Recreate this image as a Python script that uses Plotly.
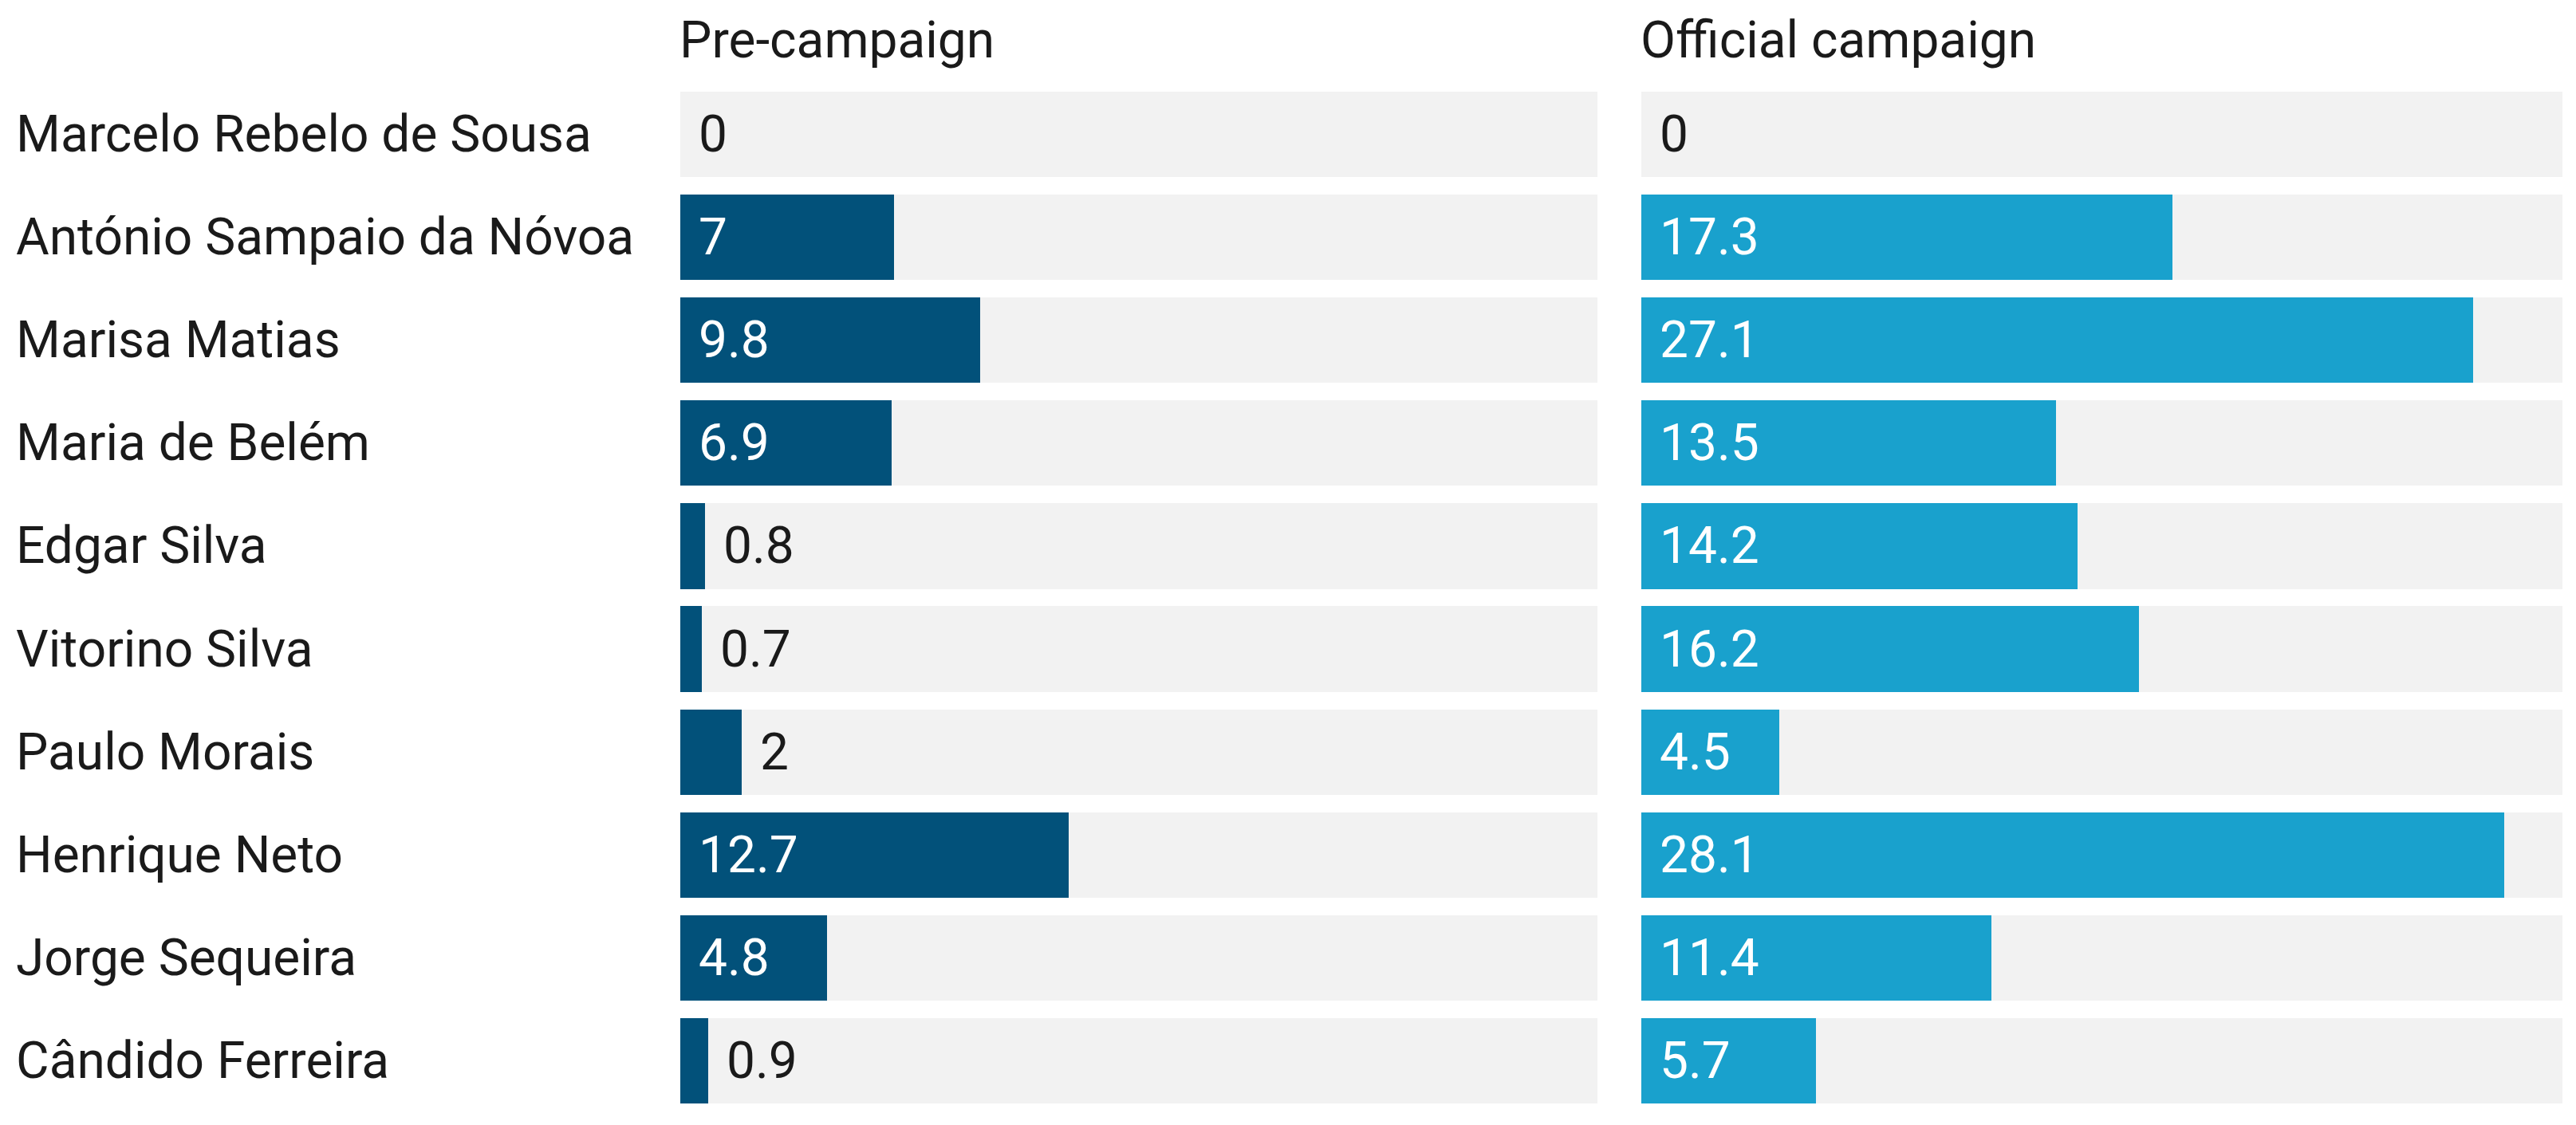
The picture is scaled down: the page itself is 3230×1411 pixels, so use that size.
import plotly.graph_objects as go

candidates = [
    "Marcelo Rebelo de Sousa",
    "António Sampaio da Nóvoa",
    "Marisa Matias",
    "Maria de Belém",
    "Edgar Silva",
    "Vitorino Silva",
    "Paulo Morais",
    "Henrique Neto",
    "Jorge Sequeira",
    "Cândido Ferreira",
]
pre_campaign = [0, 7, 9.8, 6.9, 0.8, 0.7, 2, 12.7, 4.8, 0.9]
official_campaign = [0, 17.3, 27.1, 13.5, 14.2, 16.2, 4.5, 28.1, 11.4, 5.7]
panel_titles = ["Pre-campaign", "Official campaign"]

AXIS_MAX = 30
INSIDE_MIN = 3
W, H = 3230, 1411
OFF = 8  # default page body margin
FONT = "Roboto, 'Noto Sans', Arial, sans-serif"
TRACK = "#f2f2f2"
COLORS = ["#02517a", "#19a1cd"]
TEXT = "#1a1a1a"

# pixel geometry (converted to paper fractions)
x_doms = [[(853 - OFF) / W, (2003 - OFF) / W], [(2058 - OFF) / W, (3213 - OFF) / W]]
y_dom = [1 - (1395 - OFF) / H, 1 - (104 - OFF) / H]

fig = go.Figure()
series = [pre_campaign, official_campaign]
axes = [("x", "y"), ("x2", "y2")]

for i, vals in enumerate(series):
    xa, ya = axes[i]
    fig.add_trace(go.Bar(
        x=[AXIS_MAX] * len(candidates), y=candidates, orientation="h",
        marker=dict(color=TRACK, line=dict(width=0)), xaxis=xa, yaxis=ya,
        width=0.83, hoverinfo="skip", showlegend=False))
    fig.add_trace(go.Bar(
        x=vals, y=candidates, orientation="h",
        marker=dict(color=COLORS[i], line=dict(width=0)), xaxis=xa, yaxis=ya,
        width=0.83, showlegend=False, name=panel_titles[i]))
    for c, v in zip(candidates, vals):
        inside = v >= INSIDE_MIN
        fig.add_annotation(
            x=0 if inside else v, y=c, xref=xa, yref=ya,
            text=f"{v:g}", showarrow=False, xanchor="left", yanchor="middle",
            xshift=21, font=dict(family=FONT, size=64,
                                 color="#ffffff" if inside else TEXT))
    fig.add_annotation(
        x=0, y=1 - (51 - OFF) / H, xref=xa, yref="paper", text=panel_titles[i],
        showarrow=False, xanchor="left", yanchor="middle", xshift=-3,
        font=dict(family=FONT, size=64, color=TEXT))

for c in candidates:
    fig.add_annotation(
        x=10 / W, y=c, xref="paper", yref="y", text=c, showarrow=False,
        xanchor="left", yanchor="middle",
        font=dict(family=FONT, size=64, color=TEXT))

common_x = dict(range=[0, AXIS_MAX], showgrid=False, zeroline=False,
                showticklabels=False, fixedrange=True)
common_y = dict(categoryorder="array", categoryarray=candidates,
                autorange="reversed", showgrid=False, zeroline=False,
                showticklabels=False, domain=y_dom)

fig.update_layout(
    width=W, height=H, barmode="overlay", bargap=0,
    margin=dict(l=0, r=0, t=0, b=0),
    paper_bgcolor="white", plot_bgcolor="white",
    font=dict(family=FONT, size=64, color=TEXT),
    xaxis=dict(domain=x_doms[0], anchor="y", **common_x),
    xaxis2=dict(domain=x_doms[1], anchor="y2", **common_x),
    yaxis=dict(anchor="x", **common_y),
    yaxis2=dict(anchor="x2", matches="y", **common_y),
)

fig.write_html("out.html")
